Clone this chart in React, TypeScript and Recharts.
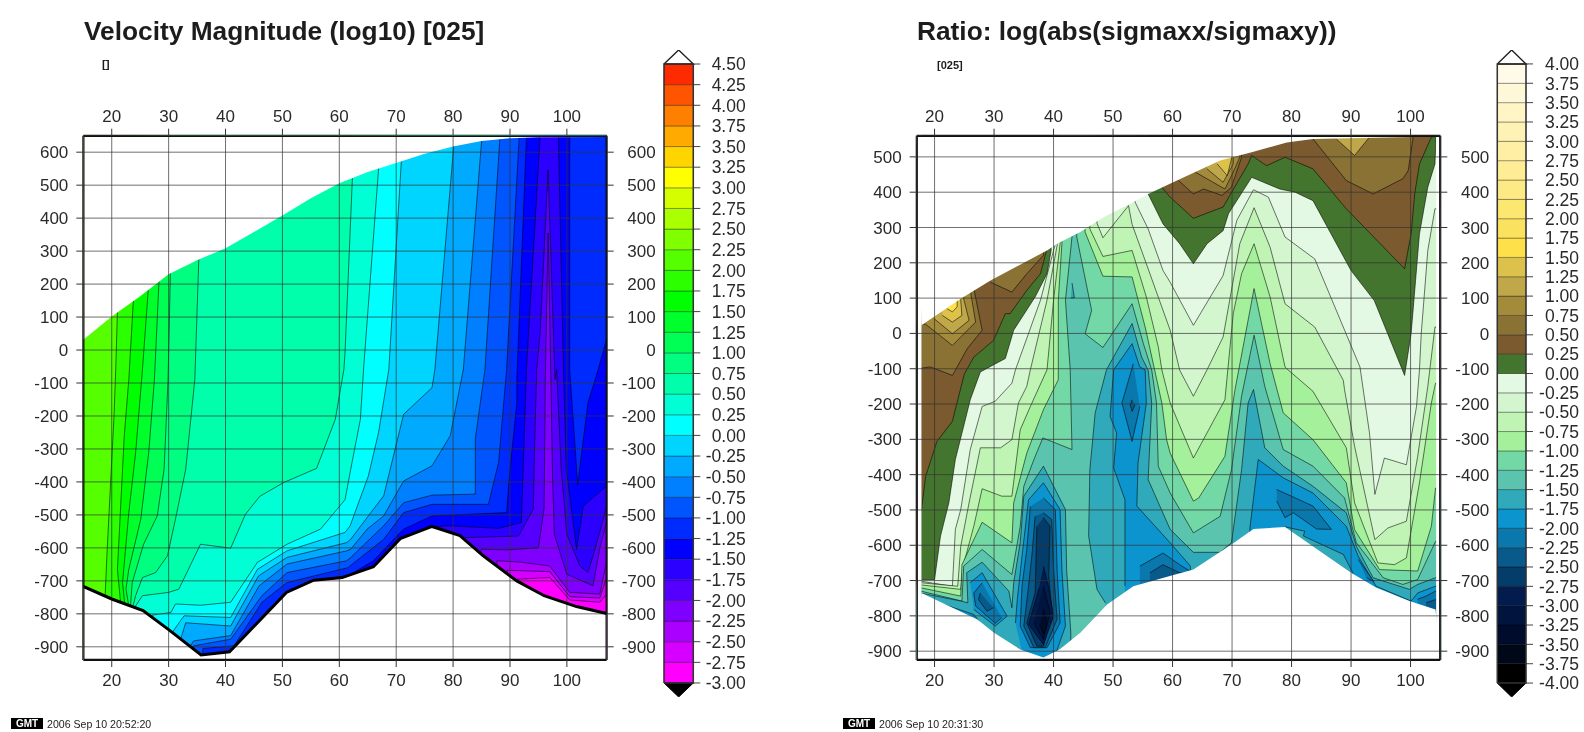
import React from 'react';
import { ScatterChart, Scatter, XAxis, YAxis } from 'recharts';

type P = [number, number];
type Band = { level: number; path: P[]; open?: boolean };

const FONT = '"Liberation Sans", Arial, sans-serif';

// ---------- colour scales (band value = lower bound of band) ----------
const VEL_LEVELS = [-3, -2.75, -2.5, -2.25, -2, -1.75, -1.5, -1.25, -1, -0.75, -0.5, -0.25, 0, 0.25, 0.5, 0.75, 1, 1.25, 1.5, 1.75, 2, 2.25, 2.5, 2.75, 3, 3.25, 3.5, 3.75, 4, 4.25];
const VEL_COLORS = ['#ff00ff', '#d500ff', '#aa00ff', '#8000ff', '#5500ff', '#2b00ff', '#0000ff', '#002bff', '#0055ff', '#0080ff', '#00aaff', '#00d5ff', '#00ffff', '#00ffd5', '#00ffaa', '#00ff80', '#00ff55', '#00ff2b', '#00ff00', '#2bff00', '#55ff00', '#80ff00', '#aaff00', '#d5ff00', '#ffff00', '#ffd500', '#ffaa00', '#ff8000', '#ff5500', '#ff2b00'];
const RATIO_LEVELS = [-4, -3.75, -3.5, -3.25, -3, -2.75, -2.5, -2.25, -2, -1.75, -1.5, -1.25, -1, -0.75, -0.5, -0.25, 0, 0.25, 0.5, 0.75, 1, 1.25, 1.5, 1.75, 2, 2.25, 2.5, 2.75, 3, 3.25, 3.5, 3.75];
const RATIO_COLORS = ['#000000', '#000818', '#000c2c', '#01143e', '#021c4e', '#043c6a', '#075a8a', '#0a78ac', '#0c94cf', '#30aabb', '#5ac4ae', '#72d8a6', '#a5f09a', '#bff4b5', '#d3f6cf', '#e4f9e4', '#44752e', '#7a5a2e', '#8a7235', '#a38b3b', '#bfa74a', '#dcc24a', '#fde04a', '#fbe25e', '#fce770', '#fdea85', '#feed95', '#ffefa5', '#fff2b5', '#fff5c5', '#fff8d8', '#fffbe8'];

// ---------- axes ----------
const X_TICKS = [20, 30, 40, 50, 60, 70, 80, 90, 100];
const VEL_Y_TICKS = [-900, -800, -700, -600, -500, -400, -300, -200, -100, 0, 100, 200, 300, 400, 500, 600];
const RATIO_Y_TICKS = [-900, -800, -700, -600, -500, -400, -300, -200, -100, 0, 100, 200, 300, 400, 500];
const VEL_X_DOMAIN: P = [15, 107];
const VEL_Y_DOMAIN: P = [-940, 650];
const RATIO_X_DOMAIN: P = [17, 105];
const RATIO_Y_DOMAIN: P = [-925, 560];

// ---------- velocity panel ----------
const VEL_TOP: P[] = [[15, 31], [20, 102], [25, 163], [30, 230], [35, 272], [40, 309], [45, 358], [50, 408], [55, 460], [60, 506], [65, 540], [70, 567], [75, 595], [80, 617], [85, 634], [90, 642], [95, 645], [107, 646]];
const VEL_BOTTOM: P[] = [[15, -717], [20, -755], [25.5, -790], [30, -848], [35.7, -925], [40.7, -915], [46, -820], [50.7, -735], [55.5, -698], [60.5, -690], [66, -657], [70.7, -572], [76.3, -535], [81.2, -563], [85.3, -624], [91.2, -700], [96, -745], [101.7, -778], [107, -799]];

const VEL_BANDS: Band[] = [
  { level: 2, path: [[15, 650], [107, 650], [107, -940], [15, -940]] },
  { level: 1.75, open: true, path: [[21, 115], [20.7, -59], [20.4, -200], [19.8, -402], [19.2, -604], [18.8, -760]] },
  { level: 1.5, open: true, path: [[23.8, 150], [23, -90], [22.2, -260], [21.3, -564], [21, -665], [21.6, -775]] },
  { level: 1.25, open: true, path: [[26.4, 178], [25.4, -59], [24.2, -311], [23, -493], [21.9, -705], [22.2, -755], [22.4, -790]] },
  { level: 1, open: true, path: [[28.3, 206], [27.5, -90], [26.5, -311], [25.1, -513], [23, -665], [22.5, -725], [22.9, -766], [23.2, -790]] },
  { level: 0.75, open: true, path: [[30.3, 230], [29.9, -90], [29.2, -362], [28, -503], [25.6, -589], [23.6, -705], [23.3, -776], [23.6, -800]] },
  { level: 0.5, open: true, path: [[35.3, 274], [34.6, -90], [33, -362], [31.2, -513], [29.8, -624], [27.7, -675], [25.4, -690], [24.2, -745], [23.6, -786]] },
  { level: 0.25, open: true, path: [[62.3, 521], [61, -9], [60.8, -59], [59.3, -210], [56, -359], [50.2, -402], [46, -444], [43.5, -498], [40.9, -601], [35.6, -589], [31.8, -725], [30, -735], [25.4, -745], [24.2, -776], [24.2, -800]] },
  { level: 0, open: true, path: [[66.9, 549], [64.3, -49], [63.7, -210], [62, -362], [61, -454], [59.6, -483], [56.7, -543], [50.8, -589], [45.6, -644], [40.9, -765], [35.6, -774], [31.2, -770], [30.4, -796], [27.1, -804]] },
  { level: -0.25, open: true, path: [[70.9, 572], [68.7, -59], [66.9, -250], [65.1, -382], [61.9, -533], [61, -553], [50.8, -609], [45.6, -665], [40.9, -811], [32.7, -806], [30.6, -857]] },
  { level: -0.5, open: true, path: [[80.1, 617], [76.8, -59], [76.3, -114], [71.3, -195], [69.8, -301], [67.8, -442], [65.1, -503], [62, -574], [61.3, -584], [50.8, -629], [45.8, -685], [40.9, -837], [33, -827], [32.1, -877]] },
  { level: -0.75, open: true, path: [[85, 632], [81.8, -59], [79.5, -260], [76.3, -351], [71.3, -397], [67.8, -503], [64.9, -543], [62, -604], [61.3, -609], [50.8, -649], [45.9, -715], [40.9, -866], [34.4, -882], [33.6, -902]] },
  { level: -1, open: true, path: [[88.2, 637], [85.6, -59], [83.9, -270], [83.9, -437], [76.3, -440], [71.3, -463], [67.8, -533], [62, -629], [61.3, -639], [50.8, -675], [46.4, -745], [40.9, -877], [34.4, -897]] },
  { level: -1.25, open: true, path: [[91.6, 642], [89.4, -59], [88, -341], [86.2, -468], [76.3, -468], [71.3, -493], [67.8, -574], [61.5, -660], [50.8, -705], [46.4, -765], [41.5, -897], [36, -905]] },
  { level: -1.5, path: [[92.9, 650], [91.2, -90], [91.2, -160], [90, -362], [89.4, -493], [76.3, -503], [71.3, -543], [69, -584], [66, -639], [62, -680], [51.4, -725], [47.3, -790], [42, -905], [42, -940], [107, -940], [107, 35], [105.5, -59], [103.7, -160], [101.9, -407], [100.5, -59], [100.5, 650]] },
  { level: -1.75, path: [[95.3, 650], [92.9, -59], [92, -523], [88, -541], [79.5, -533], [77, -535], [77, -940], [107, -940], [107, -412], [102.9, -473], [101.7, -604], [99.9, -362], [99.4, -59], [98.5, 650]] },
  { level: -2, path: [[81.3, -620], [82.1, -569], [91.5, -564], [94.1, -483], [94.3, -311], [94.7, -59], [95.3, 50], [96.7, 546], [97.9, -90], [98.2, -59], [99, -362], [100, -560], [102.3, -655], [103.7, -675], [105, -600], [107, -475], [107, -940], [81.3, -940]] },
  { level: -2.25, path: [[84.7, -620], [85, -604], [89.4, -606], [95, -600], [96, -480], [96.2, -100], [96.7, 355], [97.2, -100], [97.5, -400], [97.8, -560], [100, -680], [104.6, -715], [105.8, -600], [107, -523], [107, -940], [84.7, -940]] },
  { level: -2.5, path: [[87.7, -660], [87.7, -639], [91.8, -643], [97, -655], [100.5, -735], [105.8, -740], [107, -640], [107, -940], [87.7, -940]] },
  { level: -2.75, path: [[89.5, -720], [89.5, -668], [97, -672], [100.5, -748], [105.8, -752], [107, -690], [107, -940], [89.5, -940]] },
  { level: -3, path: [[91.2, -730], [91.2, -695], [97, -690], [100.5, -758], [105.8, -765], [107, -740], [107, -940], [91.2, -940]] },
];

// ---------- ratio panel ----------
const RATIO_TOP: P[] = [[17.8, 23], [24.4, 98], [29.4, 150], [38.9, 235], [40.6, 254], [44.5, 287], [48.4, 329], [52.9, 367], [55.9, 395], [61.1, 436], [68, 490], [73.3, 513], [79.2, 541], [83.6, 551], [104.3, 558]];
const RATIO_BOTTOM: P[] = [[17.8, -735], [27.2, -810], [30, -848], [34.4, -895], [38.3, -918], [41, -895], [44.5, -848], [49, -768], [53.4, -716], [60, -685], [63.5, -669], [69.9, -598], [73.6, -554], [78.9, -548], [90, -678], [94.2, -720], [99.8, -758], [104.2, -782]];

const RATIO_BANDS: Band[] = [
  { level: 0.25, path: [[17, 560], [105, 560], [105, -925], [17, -925]] },
  { level: 0.5, path: [[17, -100], [19.3, -95], [23, -119], [25.5, -43], [28, 9], [26.6, 127], [26.6, 300], [17, 300]] },
  { level: 0.75, path: [[17, 30], [18.5, 26], [23, -34], [26.9, 32], [26.1, 112], [26.1, 300], [17, 300]] },
  { level: 1, path: [[19.9, 42], [23, -1], [25.8, 37], [24.9, 98], [24.9, 300], [19.9, 300]] },
  { level: 1.25, path: [[21.3, 51], [23, 32], [24.6, 51], [24.4, 94], [24.4, 300], [21.3, 300]] },
  { level: 1.5, path: [[22.1, 70], [23, 61], [23.8, 75], [23.8, 300], [22.1, 300]] },
  { level: 0.5, path: [[29.4, 145], [33, 117], [35.5, 169], [38.3, 221], [38.3, 400], [29.4, 400]] },
  { level: 0.5, path: [[61, 433], [63.5, 395], [65.2, 409], [68.3, 391], [69.9, 414], [71.6, 499], [71.6, 560], [61, 560]] },
  { level: 0.75, path: [[63.8, 457], [68.8, 409], [70.2, 457], [71.3, 499], [71.3, 560], [63.8, 560]] },
  { level: 1, path: [[65.8, 466], [68.5, 428], [70.2, 480], [70.2, 560], [65.8, 560]] },
  { level: 1.25, path: [[67.5, 480], [69.2, 447], [69.9, 494], [69.9, 560], [67.5, 560]] },
  { level: 0.5, path: [[83.6, 551], [89.2, 433], [93.7, 395], [98.7, 438], [99.6, 461], [100.4, 551], [100.4, 560], [83.6, 560]] },
  { level: 1, path: [[87.5, 551], [90.6, 504], [93.1, 556], [93.1, 560], [87.5, 560]] },
  { level: 0, path: [[17, -500], [17.8, -500], [18.5, -405], [20.4, -306], [23, -249], [25, -115], [26.6, -67], [29.9, -20], [31.9, 56], [32.7, 56], [35.5, 122], [37.8, 169], [38.9, 240], [39, 560], [58.2, 560], [58.2, 414], [59.6, 386], [63.5, 326], [68.5, 358], [72.7, 480], [73.3, 504], [75.8, 475], [78.9, 499], [83.6, 466], [89.2, 353], [99, 183], [100.1, 282], [100.7, 395], [101.5, 480], [103.5, 556], [105, 560], [105, -925], [17, -925]] },
  { level: -0.25, path: [[17, -697], [20, -697], [21, -574], [22.4, -480], [23.5, -357], [26, -188], [27.7, -109], [31.9, -71], [33.3, 9], [36.9, 103], [38.9, 169], [39.6, 235], [39.6, 560], [55.9, 560], [55.9, 395], [58.4, 310], [61.2, 254], [63.5, 197], [65.8, 254], [68.5, 291], [69.4, 339], [73.3, 442], [78, 409], [80.6, 400], [83.6, 376], [90, 178], [93.9, 93], [99, -119], [100.1, 0], [101.5, 282], [102.9, 414], [104.1, 480], [104.3, 556], [105, 560], [105, -925], [17, -925]] },
  { level: -0.5, path: [[17, -700], [23, -716], [23.5, -555], [24.4, -499], [26, -329], [28, -207], [30.2, -192], [33, -141], [33.6, -103], [37.8, 94], [40.3, 254], [40.3, 560], [53.7, 560], [53.7, 372], [55.9, 296], [58.4, 178], [59.6, 145], [63.5, 23], [68.5, 164], [70.8, 320], [73.6, 407], [76.1, 386], [78.9, 273], [83.9, 211], [91.5, -95], [93.1, -282], [94, -456], [95.6, -353], [99.3, -372], [101, -207], [101.5, -103], [101.8, 0], [102.9, 235], [104.1, 353], [105, 353], [105, -925], [17, -925]] },
  { level: -0.75, path: [[17, -705], [23.9, -716], [24.4, -603], [25.8, -480], [27.7, -324], [31.1, -324], [33, -301], [34.1, -197], [35.5, -150], [36.1, -103], [38.9, 94], [40.6, 249], [40.6, 560], [47.3, 560], [47.3, 312], [48.3, 271], [52.6, 362], [53.2, 309], [55.6, 197], [57.6, 103], [59.6, 9], [61.2, -104], [63.5, -178], [65.8, -103], [68.5, -10], [71.3, 254], [73.7, 356], [76.4, 244], [78.9, 84], [83.9, 18], [88.7, -133], [88.9, -159], [90.6, -320], [94, -584], [96.2, -551], [99.3, -532], [101.2, -348], [102.9, -150], [104.1, 18], [105, 18], [105, -925], [17, -925]] },
  { level: -1, path: [[17, -711], [24.4, -725], [24.8, -659], [26.6, -546], [28, -440], [31.3, -461], [33, -461], [34.4, -273], [36.1, -207], [38.9, -103], [40, 94], [41.1, 254], [41.1, 560], [46.1, 560], [46.1, 296], [48.3, 218], [53.2, 235], [55.6, 103], [57.6, -38], [58.2, -103], [59.6, -197], [63.5, -353], [68.8, -188], [70.2, 56], [71.6, 169], [73.7, 254], [76.4, 103], [78.9, -95], [79.4, -103], [83.6, -164], [89.2, -324], [90.6, -480], [94.5, -650], [97.3, -655], [99.3, -636], [101.5, -423], [103.5, -197], [104.2, -141], [105, -141], [105, -925], [17, -925]] },
  { level: -1.25, path: [[17, -718], [24.4, -744], [24.6, -655], [26.6, -584], [28, -535], [33, -593], [33.3, -480], [35.5, -339], [38.3, -216], [40.8, -131], [40.8, -103], [40.8, 94], [41.4, 254], [41.4, 560], [45.3, 560], [45.3, 287], [48.3, 162], [53.2, 160], [55.4, 18], [57, -104], [58.2, -197], [59, -301], [59.6, -339], [63.5, -475], [64.4, -466], [68.8, -348], [70.5, -159], [73.7, 127], [76.4, -86], [78.6, -225], [83.6, -301], [89.2, -423], [90.6, -556], [94.8, -669], [101.2, -673], [103.5, -546], [104.2, -438], [105, -438], [105, -925], [17, -925]] },
  { level: -1.5, path: [[17, -727], [24.6, -758], [24.9, -659], [28, -612], [33, -683], [34.4, -546], [35, -433], [36.7, -357], [38.2, -296], [43.1, -329], [42.8, -103], [42, 94], [43.1, 273], [43.1, 560], [43.9, 560], [43.9, 273], [46.4, 65], [45.3, -1], [48.3, -40], [53.2, 84], [55.1, -29], [56.5, -104], [57.3, -197], [57.6, -376], [59.6, -452], [63.5, -565], [68, -518], [69.9, -386], [71.6, -178], [73.7, -5], [75.5, -150], [78.6, -329], [83.6, -376], [88.9, -466], [90.9, -593], [95.4, -692], [98.7, -711], [101.2, -697], [104.2, -589], [105, -589], [105, -925], [17, -925]] },
  { level: -1.75, path: [[17, -733], [24.4, -758], [25.6, -763], [25.4, -678], [28, -648], [32.5, -730], [33, -777], [33.3, -706], [34.4, -593], [35, -461], [38.3, -376], [42, -499], [42.2, -669], [42.9, -848], [42.9, -925], [17, -925]] },
  { level: -1.75, path: [[48.7, -763], [47.3, -725], [45.9, -574], [46.1, -386], [47, -225], [48.9, -103], [53.2, 28], [54.8, -67], [55.9, -104], [56.5, -197], [55.9, -414], [59.6, -555], [63.5, -620], [68, -620], [69.9, -593], [71.6, -386], [72.7, -197], [73.6, -159], [75.5, -324], [78.6, -376], [83.6, -433], [89.2, -508], [90.9, -603], [93.7, -692], [99.8, -725], [101.2, -711], [104.2, -692], [105, -692], [105, -925], [48.7, -925]] },
  { level: -1.75, path: [[43.1, 143], [43.5, 101], [42.9, 101]] },
  { level: -2, path: [[17, -742], [26.6, -796], [27.7, -820], [27.7, -925], [17, -925]] },
  { level: -2, path: [[26, -706], [28, -678], [32.2, -801], [30.2, -829], [26.6, -782]] },
  { level: -2, path: [[33.6, -820], [33.9, -754], [34.7, -631], [35.8, -471], [38.3, -423], [41.1, -499], [41.4, -669], [42, -829], [40, -925], [35, -925]] },
  { level: -2, path: [[52, -716], [52, -471], [50.1, -381], [50.6, -282], [49.5, -235], [50.1, -103], [53.2, -29], [54.5, -95], [55.4, -103], [55.6, -197], [54.2, -367], [54, -489], [59.6, -593], [63, -659], [63, -800], [73, -800], [73, -565], [73, -551], [74.4, -357], [78.6, -409], [83.6, -452], [89.2, -546], [91.2, -631], [94.2, -716], [100.1, -758], [101.2, -735], [104.2, -716], [105, -716], [105, -925], [52, -925]] },
  { level: -1.75, path: [[78.9, -548], [82.2, -560], [82, -574], [88.7, -626], [90.3, -678], [90.3, -925], [78.9, -925]] },
  { level: -2.25, path: [[38.3, -466], [40.3, -499], [40.6, -669], [41.1, -820], [38.9, -890], [36.1, -890], [34.4, -829], [34.7, -716], [35.5, -612], [36.1, -490]] },
  { level: -2.25, path: [[28, -706], [26.6, -735], [26.9, -772], [30.2, -821], [31.3, -805]] },
  { level: -2.25, path: [[53.4, -86], [51.5, -197], [53.2, -306], [54.5, -207]] },
  { level: -2.25, path: [[54.5, -659], [58.4, -622], [61.2, -655], [62.9, -673], [54.5, -725]] },
  { level: -2.25, path: [[91.2, -640], [92.6, -673], [93.8, -702], [92.6, -692]] },
  { level: -2.25, path: [[101.2, -753], [102.6, -744], [104.2, -730], [105, -730], [105, -925], [101.2, -925]] },
  { level: -2.25, path: [[77.5, -442], [83.6, -489], [86.7, -555], [84.2, -554], [80.3, -508], [78.9, -522], [77.5, -475]] },
  { level: -2.5, path: [[38.3, -508], [39.7, -527], [40, -669], [40.6, -810], [38.6, -890], [36.7, -890], [35, -829], [35.8, -716], [36.4, -622], [36.9, -518]] },
  { level: -2.5, path: [[27.7, -735], [27.4, -754], [28.8, -787], [29.9, -777]] },
  { level: -2.5, path: [[53.2, -188], [52.9, -202], [53.2, -221], [53.7, -202]] },
  { level: -2.5, path: [[56.2, -678], [58.4, -655], [61.2, -678], [62.6, -678], [56.2, -716]] },
  { level: -2.5, path: [[102.6, -763], [104.2, -754], [105, -754], [105, -925], [102.6, -925]] },
  { level: -2.75, path: [[38.3, -522], [39.4, -546], [39.2, -688], [39.7, -782], [39.2, -829], [38.3, -886], [37.2, -886], [35.5, -820], [36.9, -735], [37.2, -546]] },
  { level: -3, path: [[38.3, -660], [39.2, -720], [40, -801], [38.3, -881], [35.8, -824], [37.6, -720]] },
  { level: -3.25, path: [[38.3, -716], [39.4, -791], [38.3, -867], [36.7, -820]] },
  { level: -3.5, path: [[38.3, -782], [38.9, -820], [38.3, -853], [37.7, -824]] },
];

// ---------- rendering helpers ----------
const toRows = (pts: P[]) => pts.map(([x, y]) => ({ x, y }));
const noDot = () => <g />;

function poly(key: string, pts: P[], fill: string, stroke: string, strokeWidth: number, strokeOpacity = 1, xAxisId = 'b', yAxisId = 'l') {
  return (
    <Scatter
      key={key}
      data={toRows(pts)}
      xAxisId={xAxisId}
      yAxisId={yAxisId}
      isAnimationActive={false}
      shape={noDot}
      line={{ fill, stroke, strokeWidth, strokeOpacity }}
      legendType="none"
    />
  );
}

const endTick = (offset: number, size: number, digits: number) => (p: any) => (
  <text x={p.x + offset} y={p.y} dy="0.36em" textAnchor="end" fontFamily={FONT} fontSize={size} fill="#2a2a2a">
    {digits ? Number(p.payload.value).toFixed(digits) : p.payload.value}
  </text>
);

function Panel(props: {
  left: number; xDomain: P; yDomain: P; yTicks: number[]; bands: Band[]; levels: number[]; colors: string[];
  top: P[]; bottom: P[]; marginLeft: number; marginRight: number; outline?: boolean;
}) {
  const { left, xDomain, yDomain, yTicks, bands, levels, colors, top, bottom, marginLeft, marginRight, outline } = props;
  const [x0, x1] = xDomain;
  const [y0, y1] = yDomain;
  const colorOf = (level: number) => colors[levels.indexOf(level)];
  const tickStyle = { fontFamily: FONT, fontSize: 17, fill: '#2a2a2a' };
  const axisLine = { stroke: '#111', strokeWidth: 2 };
  const tickLine = { stroke: '#333', strokeWidth: 1 };
  const layers: React.ReactNode[] = [];
  bands.forEach((b, i) => {
    const pts: P[] = b.open
      ? [[b.path[0][0], y1], ...b.path, [b.path[b.path.length - 1][0], y0], [x1, y0], [x1, y1]]
      : b.path;
    const base = i === 0;
    layers.push(poly(`band${i}`, pts, colorOf(b.level), base ? 'none' : '#000', 1, 0.55));
  });
  layers.push(poly('maskTop', [...top, [x1, y1], [x0, y1]], '#fff', 'none', 0));
  layers.push(poly('maskBottom', [...bottom, [x1, y0], [x0, y0]], '#fff', 'none', 0));
  const lx = top[0][0];
  const rx = top[top.length - 1][0];
  if (lx > x0) layers.push(poly('maskL', [[x0, y1], [lx, y1], [lx, y0], [x0, y0]], '#fff', 'none', 0));
  if (rx < x1) layers.push(poly('maskR', [[rx, y1], [x1, y1], [x1, y0], [rx, y0]], '#fff', 'none', 0));
  X_TICKS.forEach((t) => layers.push(poly(`gx${t}`, [[t, y0], [t, y1]], 'none', '#333', 1, 0.7)));
  yTicks.forEach((t) => layers.push(poly(`gy${t}`, [[x0, t], [x1, t]], 'none', '#333', 1, 0.7)));
  if (outline) layers.push(poly('outline', bottom, 'none', '#000', 3));
  layers.push(poly('frame', [[x0, y0], [x1, y0], [x1, y1], [x0, y1], [x0, y0]], 'none', '#111', 2.4, 1, 't', 'r'));

  return (
    <div style={{ position: 'absolute', left, top: 0 }}>
      <ScatterChart width={792} height={732} margin={{ top: 105.7, bottom: 42, left: marginLeft, right: marginRight }}>
        <XAxis xAxisId="b" orientation="bottom" type="number" dataKey="x" domain={xDomain} ticks={X_TICKS} interval={0} allowDataOverflow height={30} axisLine={axisLine} tickLine={tickLine} tickSize={7} tickMargin={7} tick={tickStyle} />
        <XAxis xAxisId="t" orientation="top" type="number" dataKey="x" domain={xDomain} ticks={X_TICKS} interval={0} allowDataOverflow height={30} axisLine={axisLine} tickLine={tickLine} tickSize={7} tickMargin={7} tick={tickStyle} />
        <YAxis yAxisId="l" orientation="left" type="number" dataKey="y" domain={yDomain} ticks={yTicks} interval={0} allowDataOverflow width={50} axisLine={axisLine} tickLine={tickLine} tickSize={7} tickMargin={8} tick={tickStyle} />
        <YAxis yAxisId="r" orientation="right" type="number" dataKey="y" domain={yDomain} ticks={yTicks} interval={0} allowDataOverflow width={50} axisLine={axisLine} tickLine={tickLine} tickSize={7} tick={endTick(40, 17, 0)} />
        {layers}
      </ScatterChart>
    </div>
  );
}

function ColorBar(props: { left: number; width: number; mL: number; mR: number; levels: number[]; colors: string[]; tipSize: number; labelOffset: number }) {
  const { left, width, mL, mR, levels, colors, tipSize, labelOffset } = props;
  const lo = levels[0];
  const hi = levels[levels.length - 1] + 0.25;
  const ticks = [...levels, hi];
  return (
    <div style={{ position: 'absolute', left, top: 0 }}>
      <ScatterChart width={width} height={732} margin={{ top: 50, bottom: 35, left: mL, right: mR }}>
        <XAxis xAxisId="b" type="number" dataKey="x" domain={[0, 1]} hide />
        <YAxis yAxisId="l" orientation="right" type="number" dataKey="y" domain={[lo - tipSize, hi + tipSize]} ticks={ticks} interval={0} allowDataOverflow width={50} axisLine={false} tickLine={{ stroke: '#444', strokeWidth: 1 }} tickSize={7} tick={endTick(labelOffset, 17.5, 2)} />
        {levels.map((l, i) => poly(`c${i}`, [[0, l], [1, l], [1, l + 0.25], [0, l + 0.25], [0, l]], colors[i], '#000', 0.8, 0.4))}
        {poly('tipTop', [[0, hi], [0.5, hi + tipSize], [1, hi], [0, hi]], '#fff', '#222', 1.4)}
        {poly('tipBottom', [[0, lo], [0.5, lo - tipSize], [1, lo], [0, lo]], '#000', '#000', 1)}
        {poly('barFrame', [[0, lo], [1, lo], [1, hi], [0, hi], [0, lo]], 'none', '#333', 1.5)}
      </ScatterChart>
    </div>
  );
}

const absText = (left: number, top: number, size: number, weight: number, text: string) => (
  <div style={{ position: 'absolute', left, top, fontFamily: FONT, fontSize: size, fontWeight: weight, lineHeight: 1, whiteSpace: 'nowrap', color: '#1c1c1c' }}>{text}</div>
);

const stamp = (left: number, text: string) => (
  <div style={{ position: 'absolute', left, top: 718, height: 11, display: 'flex', alignItems: 'center', fontFamily: FONT, whiteSpace: 'nowrap' }}>
    <span style={{ background: '#000', color: '#fff', fontWeight: 700, fontSize: 10, width: 32, height: 11, lineHeight: '11px', textAlign: 'center' }}>GMT</span>
    <span style={{ marginLeft: 4, fontSize: 10.6, color: '#222' }}>{text}</span>
  </div>
);

export default function App() {
  return (
    <div style={{ position: 'absolute', left: 0, top: 0, width: 1584, height: 732, background: '#fff', overflow: 'hidden', filter: 'blur(0.45px)' }}>
      <Panel left={0} xDomain={VEL_X_DOMAIN} yDomain={VEL_Y_DOMAIN} yTicks={VEL_Y_TICKS} bands={VEL_BANDS} levels={VEL_LEVELS} colors={VEL_COLORS} top={VEL_TOP} bottom={VEL_BOTTOM} marginLeft={33.3} marginRight={135.3} outline />
      <Panel left={792} xDomain={RATIO_X_DOMAIN} yDomain={RATIO_Y_DOMAIN} yTicks={RATIO_Y_TICKS} bands={RATIO_BANDS} levels={RATIO_LEVELS} colors={RATIO_COLORS} top={RATIO_TOP} bottom={RATIO_BOTTOM} marginLeft={74.7} marginRight={93.7} />
      <ColorBar left={640} width={130} mL={24} mR={26.7} levels={VEL_LEVELS} colors={VEL_COLORS} tipSize={0.17} labelOffset={43.4} />
      <ColorBar left={1480} width={104} mL={17.3} mR={8} levels={RATIO_LEVELS} colors={RATIO_COLORS} tipSize={0.18} labelOffset={44} />
      {absText(84, 18, 26.3, 700, 'Velocity Magnitude (log10) [025]')}
      {absText(917, 18, 26.3, 700, 'Ratio: log(abs(sigmaxx/sigmaxy))')}
      {absText(102, 59, 11.5, 700, '[]')}
      {absText(937, 60, 11, 700, '[025]')}
      {stamp(11, '2006 Sep 10 20:52:20')}
      {stamp(843, '2006 Sep 10 20:31:30')}
    </div>
  );
}
